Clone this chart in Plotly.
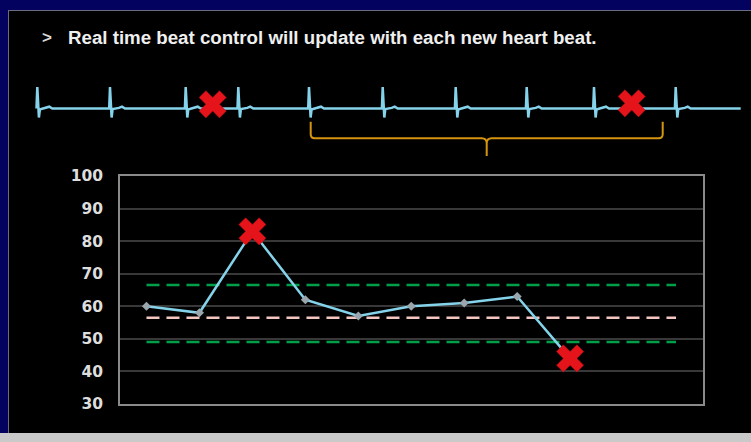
import plotly.graph_objects as go

# ---------------- data ----------------
headline = "Real time beat control will update with each new heart beat."
bullet = ">"

beat_numbers = [1, 2, 3, 4, 5, 6, 7, 8, 9]
beat_values = [60, 58, 83, 62, 57, 60, 61, 63, 44]
is_rejected = [False, False, True, False, False, False, False, False, True]
category_count = 11

upper_limit = 66.5
center_value = 56.5
lower_limit = 49

y_tick_values = [30, 40, 50, 60, 70, 80, 90, 100]
y_tick_labels = ["30", "40", "50", "60", "70", "80", "90", "100"]

# ECG strip (positions read in page pixels)
ecg_beat_x = [37.3, 110.0, 185.7, 238.3, 309.0, 382.7, 455.7, 526.7, 594.0, 675.7]
ecg_end_x = 740.7
ecg_baseline = 108.5
ecg_rejected_x = [212.7, 631.7]
ecg_rejected_y = [104.3, 103.3]
brace_span = [310.7, 662.7]

# ---------------- styling ----------------
W, H = 751, 442
NAVY = "#03035f"
LINE_BLUE = "#85d3ea"
RED = "#e5141b"
GREEN = "#00a04a"
PINK = "#f3c6c0"
GOLD = "#d49410"


def px(x):
    return x / W


def py(y):
    return 1 - y / H


# beat waveform template (dx, dy) in pixels relative to the baseline
template = [(-0.8, 0), (0.0, -21.5), (1.6, 9.0), (2.6, 0.6), (4.0, 0.5),
            (9.0, -0.6), (12.0, -1.8), (15.0, 0.0)]

ecg_x, ecg_y = [], []
for bx in ecg_beat_x:
    for dx, dy in template:
        ecg_x.append(bx + dx)
        ecg_y.append(ecg_baseline + dy)
ecg_x.append(ecg_end_x)
ecg_y.append(ecg_baseline)

fig = go.Figure()

# control lines across all categories
cats = list(range(1, category_count + 1))
for val, col in [(upper_limit, GREEN), (center_value, PINK), (lower_limit, GREEN)]:
    fig.add_trace(go.Scatter(x=cats, y=[val] * len(cats), mode="lines",
                             line=dict(color=col, width=2.5, dash="13px,7px"),
                             hoverinfo="skip", showlegend=False))

# beat trend line
normal_x = [x for x, r in zip(beat_numbers, is_rejected) if not r]
normal_y = [v for v, r in zip(beat_values, is_rejected) if not r]
rej_x = [x for x, r in zip(beat_numbers, is_rejected) if r]
rej_y = [v for v, r in zip(beat_values, is_rejected) if r]

fig.add_trace(go.Scatter(x=beat_numbers, y=beat_values, mode="lines",
                         line=dict(color=LINE_BLUE, width=2.5),
                         showlegend=False))
fig.add_trace(go.Scatter(x=normal_x, y=normal_y, mode="markers",
                         marker=dict(symbol="diamond", size=7, color="#9aa6ad"),
                         showlegend=False))
fig.add_trace(go.Scatter(x=rej_x, y=rej_y, mode="markers",
                         marker=dict(symbol="x", size=24, color=RED,
                                     line=dict(color="#b80f14", width=0.5)),
                         showlegend=False))

# ECG strip on a page-pixel overlay axis
fig.add_trace(go.Scatter(x=ecg_x, y=ecg_y, mode="lines", xaxis="x2", yaxis="y2",
                         line=dict(color=LINE_BLUE, width=2.5),
                         hoverinfo="skip", showlegend=False))
fig.add_trace(go.Scatter(x=ecg_rejected_x, y=ecg_rejected_y, mode="markers",
                         xaxis="x2", yaxis="y2",
                         marker=dict(symbol="x", size=24, color=RED,
                                     line=dict(color="#b80f14", width=0.5)),
                         hoverinfo="skip", showlegend=False))

# brace
bx0, bx1 = brace_span
bm = (bx0 + bx1) / 2
top, bar, tip = 121.7, 138.3, 156.0
brace_path = (
    f"M {bx0},{top} L {bx0},{bar-4} Q {bx0},{bar} {bx0+4},{bar} "
    f"L {bm-5},{bar} Q {bm},{bar} {bm},{bar+5} L {bm},{tip} "
    f"M {bm},{bar+5} Q {bm},{bar} {bm+5},{bar} "
    f"L {bx1-4},{bar} Q {bx1},{bar} {bx1},{bar-4} L {bx1},{top}"
)

shapes = [
    dict(type="rect", xref="paper", yref="paper", x0=px(8), x1=1, y0=py(433), y1=py(10),
         fillcolor="black", line=dict(width=0), layer="below"),
    dict(type="rect", xref="paper", yref="paper", x0=0, x1=1, y0=0, y1=py(433),
         fillcolor="#c9c9c9", line=dict(width=0), layer="below"),
    dict(type="line", xref="paper", yref="paper", x0=px(8), x1=1, y0=py(10.5), y1=py(10.5),
         line=dict(color="#6a6a80", width=1), layer="below"),
    dict(type="line", xref="paper", yref="paper", x0=px(8.5), x1=px(8.5), y0=py(433), y1=py(10),
         line=dict(color="#6a6a80", width=1), layer="below"),
    dict(type="path", xref="x2", yref="y2", path=brace_path,
         line=dict(color=GOLD, width=2)),
]

annotations = [
    dict(xref="paper", yref="paper", x=px(40), y=py(37), text=bullet, showarrow=False,
         xanchor="left", yanchor="middle",
         font=dict(family="Liberation Sans", size=17, color="#d8d8d8", weight="bold")),
    dict(xref="paper", yref="paper", x=px(65.5), y=py(37), text=headline, showarrow=False,
         xanchor="left", yanchor="middle",
         font=dict(family="Liberation Sans", size=18.7, color="#efefef", weight="bold")),
]

fig.update_layout(
    width=W, height=H,
    margin=dict(l=0, r=0, t=0, b=0, autoexpand=False),
    paper_bgcolor=NAVY,
    plot_bgcolor="rgba(0,0,0,0)",
    shapes=shapes,
    annotations=annotations,
    hovermode=False,
    xaxis=dict(domain=[px(120), px(702.5)], range=[0.5, category_count + 0.5],
               showgrid=False, zeroline=False, showticklabels=False, automargin=False,
               showline=True, mirror=True, linecolor="#8a8a8a", linewidth=1.5),
    yaxis=dict(domain=[py(404), py(176)], range=[30, 100], automargin=False,
               tickvals=y_tick_values, ticktext=y_tick_labels,
               showgrid=True, gridcolor="#383838", gridwidth=1.5,
               zeroline=False, ticks="", ticklabelstandoff=12,
               tickfont=dict(family="DejaVu Sans", size=15.5, color="#dedede", weight="bold"),
               showline=True, mirror=True, linecolor="#8a8a8a", linewidth=1.5),
    xaxis2=dict(domain=[0, 1], range=[0, W], visible=False, anchor="y2", automargin=False),
    yaxis2=dict(domain=[0, 1], range=[H, 0], visible=False, anchor="x2", automargin=False),
)

fig.write_html("out.html", config={"displayModeBar": False},
               post_script="document.body.style.margin='0';document.body.style.background='" + NAVY + "';")
